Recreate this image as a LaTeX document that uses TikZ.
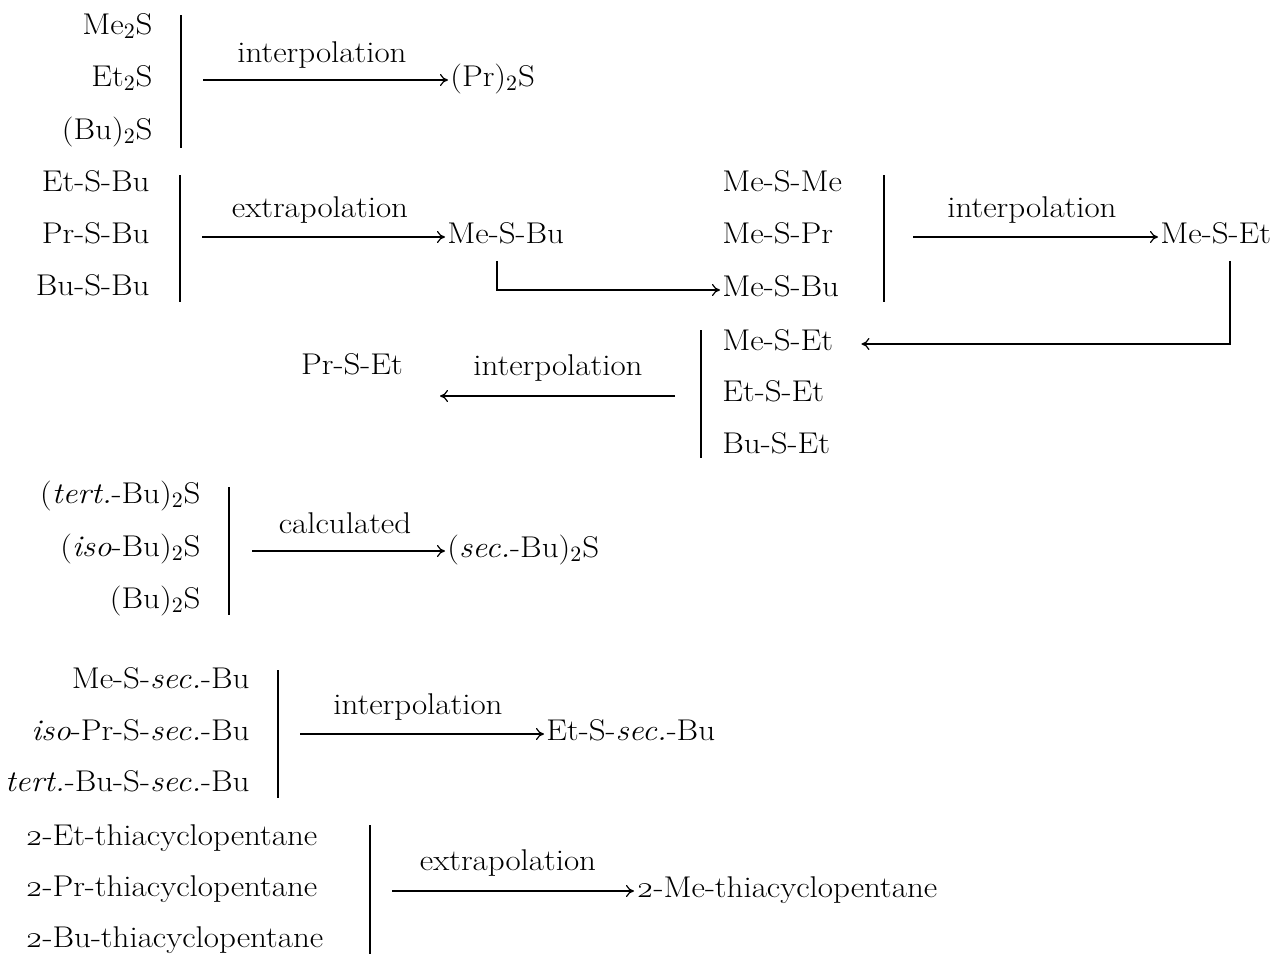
\documentclass[tikz,border=0pt]{standalone}
\usepackage{fontspec}
\setmainfont{Latin Modern Roman}[FakeStretch=1.1]
\usetikzlibrary{arrows.meta}
\begin{document}
\begin{tikzpicture}[x=0.5pt,y=-0.5pt,
  txt/.style={font=\fontsize{15}{18}\selectfont, text height=10pt, text depth=3.5pt, inner sep=1pt},
  lbl/.style={font=\fontsize{15}{18}\selectfont, inner sep=0pt},
  bar/.style={line width=0.8pt},
  conn/.style={line width=0.6pt, -{To[length=4pt,width=6pt]}},
  line/.style={line width=0.6pt}]
\useasboundingbox (0,0) rectangle (1274,954);

% ---- group 1
\node[txt,anchor=east] (a1) at (155,28) {Me$_2$S};
\node[txt,anchor=east] (a2) at (155,80) {Et$_2$S};
\node[txt,anchor=east] (a3) at (155,133) {(Bu)$_2$S};
\coordinate (b1t) at (181,15); \coordinate (b1b) at (181,148);
\draw[bar] (b1t) -- (b1b);
\node[lbl] (l1) at (322,55) {interpolation};
\coordinate (s1) at (203,80);
\node[txt,anchor=west] (p1) at (448,80) {(Pr)$_2$S};
\draw[conn] (s1) -- (p1.west);

% ---- group 2
\node[txt,anchor=east] (c1) at (152,185) {Et-S-Bu};
\node[txt,anchor=east] (c2) at (152,237) {Pr-S-Bu};
\node[txt,anchor=east] (c3) at (152,289) {Bu-S-Bu};
\coordinate (b2t) at (180,175); \coordinate (b2b) at (180,302);
\draw[bar] (b2t) -- (b2b);
\node[lbl] (l2) at (320,210) {extrapolation};
\coordinate (s2) at (202,237);
\node[txt,anchor=west] (p2) at (445,237) {Me-S-Bu};
\draw[conn] (s2) -- (p2.west);

% ---- group 3
\node[txt,anchor=west] (q1) at (720,185) {Me-S-Me};
\node[txt,anchor=west] (q2) at (720,237) {Me-S-Pr};
\node[txt,anchor=west] (q3) at (720,290) {Me-S-Bu};
\coordinate (k2) at (497,290);
\draw[conn] ([yshift=-4pt]p2.south -| k2) -- (k2) -- (q3.west);
\coordinate (b3t) at (884,175); \coordinate (b3b) at (884,302);
\draw[bar] (b3t) -- (b3b);
\node[lbl] (l3) at (1032,210) {interpolation};
\coordinate (s3) at (913,237);
\node[txt,anchor=west] (p3) at (1158,237) {Me-S-Et};
\draw[conn] (s3) -- (p3.west);

% ---- group 4
\node[txt,anchor=west] (m1) at (720,344) {Me-S-Et};
\node[txt,anchor=west] (m2) at (720,395) {Et-S-Et};
\node[txt,anchor=west] (m3) at (720,447) {Bu-S-Et};
\coordinate (k3) at (1230,344);
\draw[conn, shorten >=13pt] ([yshift=-4pt]p3.south -| k3) -- (k3) -- (m1.east);
\coordinate (b4t) at (701,330); \coordinate (b4b) at (701,458);
\draw[bar] (b4t) -- (b4b);
\node[lbl] (l4) at (558,368) {interpolation};
\node[txt] (p4) at (352,368) {Pr-S-Et};
\coordinate (s4) at (675,396);
\coordinate (t4) at (440,396);
\draw[conn] (s4) -- (t4);

% ---- group 5
\node[txt,anchor=east] (e1) at (203,497) {(\textit{tert.}-Bu)$_2$S};
\node[txt,anchor=east] (e2) at (203,550) {(\textit{iso}-Bu)$_2$S};
\node[txt,anchor=east] (e3) at (203,602) {(Bu)$_2$S};
\coordinate (b5t) at (229,487); \coordinate (b5b) at (229,615);
\draw[bar] (b5t) -- (b5b);
\node[lbl] (l5) at (345,523) {calculated};
\coordinate (s5) at (252,551);
\node[txt,anchor=west] (p5) at (445,551) {(\textit{sec.}-Bu)$_2$S};
\draw[conn] (s5) -- (p5.west);

% ---- group 6
\node[txt,anchor=east] (f1) at (252,682) {Me-S-\textit{sec.}-Bu};
\node[txt,anchor=east] (f2) at (252,734) {\textit{iso}-Pr-S-\textit{sec.}-Bu};
\node[txt,anchor=east] (f3) at (252,785) {\textit{tert.}-Bu-S-\textit{sec.}-Bu};
\coordinate (b6t) at (278,670); \coordinate (b6b) at (278,798);
\draw[bar] (b6t) -- (b6b);
\node[lbl] (l6) at (418,707) {interpolation};
\coordinate (s6) at (300,734);
\node[txt,anchor=west] (p6) at (544,734) {Et-S-\textit{sec.}-Bu};
\draw[conn] (s6) -- (p6.west);

% ---- group 7
\node[txt,anchor=west] (g1) at (23,839) {\oldstylenums{2}-Et-thiacyclopentane};
\node[txt,anchor=west] (g2) at (23,890) {\oldstylenums{2}-Pr-thiacyclopentane};
\node[txt,anchor=west] (g3) at (23,941) {\oldstylenums{2}-Bu-thiacyclopentane};
\coordinate (b7t) at (370,825); \coordinate (b7b) at (370,954);
\draw[bar] (b7t) -- (b7b);
\node[lbl] (l7) at (508,863) {extrapolation};
\coordinate (s7) at (392,891);
\node[txt,anchor=west] (p7) at (634,891) {\oldstylenums{2}-Me-thiacyclopentane};
\draw[conn] (s7) -- (p7.west);
\end{tikzpicture}
\end{document}
